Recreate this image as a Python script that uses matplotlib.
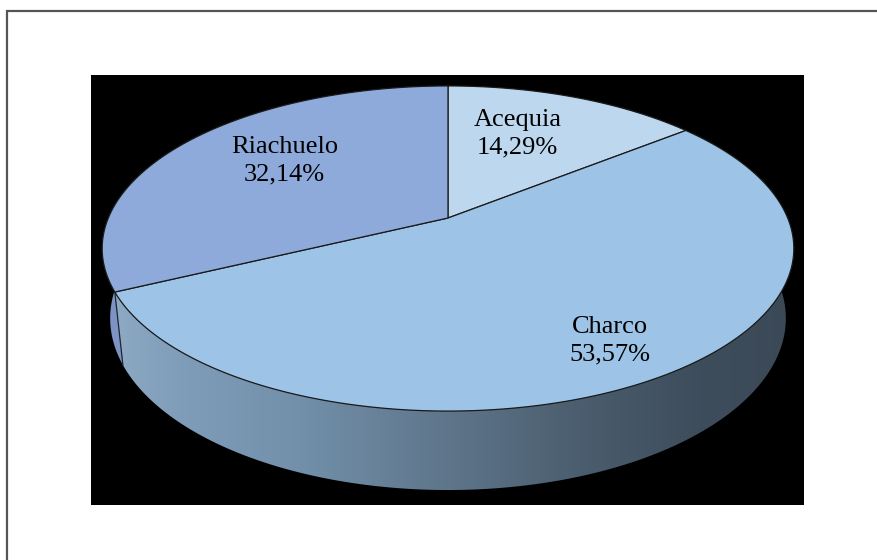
import numpy as np
import matplotlib.pyplot as plt
from matplotlib.patches import Polygon, Rectangle
from matplotlib.colors import LinearSegmentedColormap

# slice data, clockwise from 12 o'clock
labels = ['Acequia', 'Charco', 'Riachuelo']
values = [14.29, 53.57, 32.14]

top_colors = ['#bdd7ee', '#9dc3e6', '#8eaadb']
wall_colors = ['#9fb8d0', None, '#7d93c3']   # None -> gradient wall
label_radius = [0.64, 0.80, 0.65]
label_turn = [4.9, -0.8, -5.2]               # degrees off the slice middle

# perspective camera for the tilted disc (pixel units of the plot area)
cx, cy = 448.0, 218.0
focal = 1606.0
tilt = np.radians(27.5)
dist = 4.728
depth = 0.2335
s, c = np.sin(tilt), np.cos(tilt)


def project(theta, r=1.0, z=0.0):
    X = r * np.cos(theta)
    Y = r * np.sin(theta)
    v = Y * s + z * c
    w = dist + Y * c - z * s
    return cx + focal * X / w, cy - focal * v / w


fig = plt.figure(figsize=(8.77, 5.6), dpi=100)
fig.patch.set_facecolor('white')

# outer frame (only top and left edges fall inside the image)
fig.add_artist(Rectangle((7 / 877, -0.5), 2, 0.5 + 1 - 11 / 560,
                         transform=fig.transFigure, fill=False,
                         edgecolor='#555555', lw=1.6))

x0, x1, y0, y1 = 91, 804, 75, 505
ax = fig.add_axes([x0 / 877, 1 - y1 / 560, (x1 - x0) / 877, (y1 - y0) / 560])
ax.set_facecolor('black')
for sp in ax.spines.values():
    sp.set_visible(False)
ax.set_xticks([])
ax.set_yticks([])

total = sum(values)
bounds = [90.0]
for v in values:
    bounds.append(bounds[-1] - 360.0 * v / total)

# visible front part of the side wall
front_lo, front_hi = -195.0, 15.0

# horizontal shading of the side wall, light on the left, dark on the right
gx0, gx1 = 110.0, 795.0
wall_stops = [(110, '#8eaac4'), (180, '#7f9cb9'), (300, '#7290aa'),
              (450, '#5e758a'), (600, '#485a6b'), (700, '#3e4d5c'),
              (795, '#3b4957')]
wall_cmap = LinearSegmentedColormap.from_list(
    'wall', [((x - gx0) / (gx1 - gx0), col) for x, col in wall_stops])

for i in range(len(values)):
    hi, lo = bounds[i], bounds[i + 1]
    a, b = max(lo, front_lo), min(hi, front_hi)
    if a >= b:
        continue
    th = np.radians(np.linspace(a, b, 200))
    tx, ty = project(th, 1.0, 0.0)
    bx, by = project(th[::-1], 1.0, -depth)
    pts = np.column_stack([np.concatenate([tx, bx]), np.concatenate([ty, by])])
    if wall_colors[i] is None:
        poly = Polygon(pts, closed=True, facecolor='none', edgecolor='none', zorder=2)
        ax.add_patch(poly)
        grad = np.linspace(0, 1, 512).reshape(1, -1)
        im = ax.imshow(grad, extent=[gx0, gx1, y1, y0], cmap=wall_cmap,
                       aspect='auto', zorder=2)
        im.set_clip_path(poly)
    else:
        ax.add_patch(Polygon(pts, closed=True, facecolor=wall_colors[i],
                             edgecolor='none', zorder=2))

# seam lines between walls
for ang in bounds[1:-1]:
    if front_lo < ang < front_hi:
        t = np.radians(ang)
        ax.plot(*zip(project(t, 1.0, 0.0), project(t, 1.0, -depth)),
                color='#1e2630', lw=0.9, zorder=3)

# top faces
for i in range(len(values)):
    hi, lo = bounds[i], bounds[i + 1]
    th = np.radians(np.linspace(hi, lo, 300))
    ex, ey = project(th)
    pts = np.column_stack([np.concatenate([[cx], ex]), np.concatenate([[cy], ey])])
    ax.add_patch(Polygon(pts, closed=True, facecolor=top_colors[i],
                         edgecolor='#1a1a1a', lw=0.9, zorder=4))

# data labels
for i, (lab, v) in enumerate(zip(labels, values)):
    mid = np.radians((bounds[i] + bounds[i + 1]) / 2 + label_turn[i])
    lx, ly = project(mid, label_radius[i])
    txt = '{}\n{:.2f}%'.format(lab, v).replace('.', ',')
    ax.text(lx, ly, txt, ha='center', va='center', fontsize=19,
            family='Liberation Serif', color='black', linespacing=1.3, zorder=5)

ax.set_xlim(x0, x1)
ax.set_ylim(y1, y0)

fig.savefig('out.png', dpi=100, facecolor='white')
